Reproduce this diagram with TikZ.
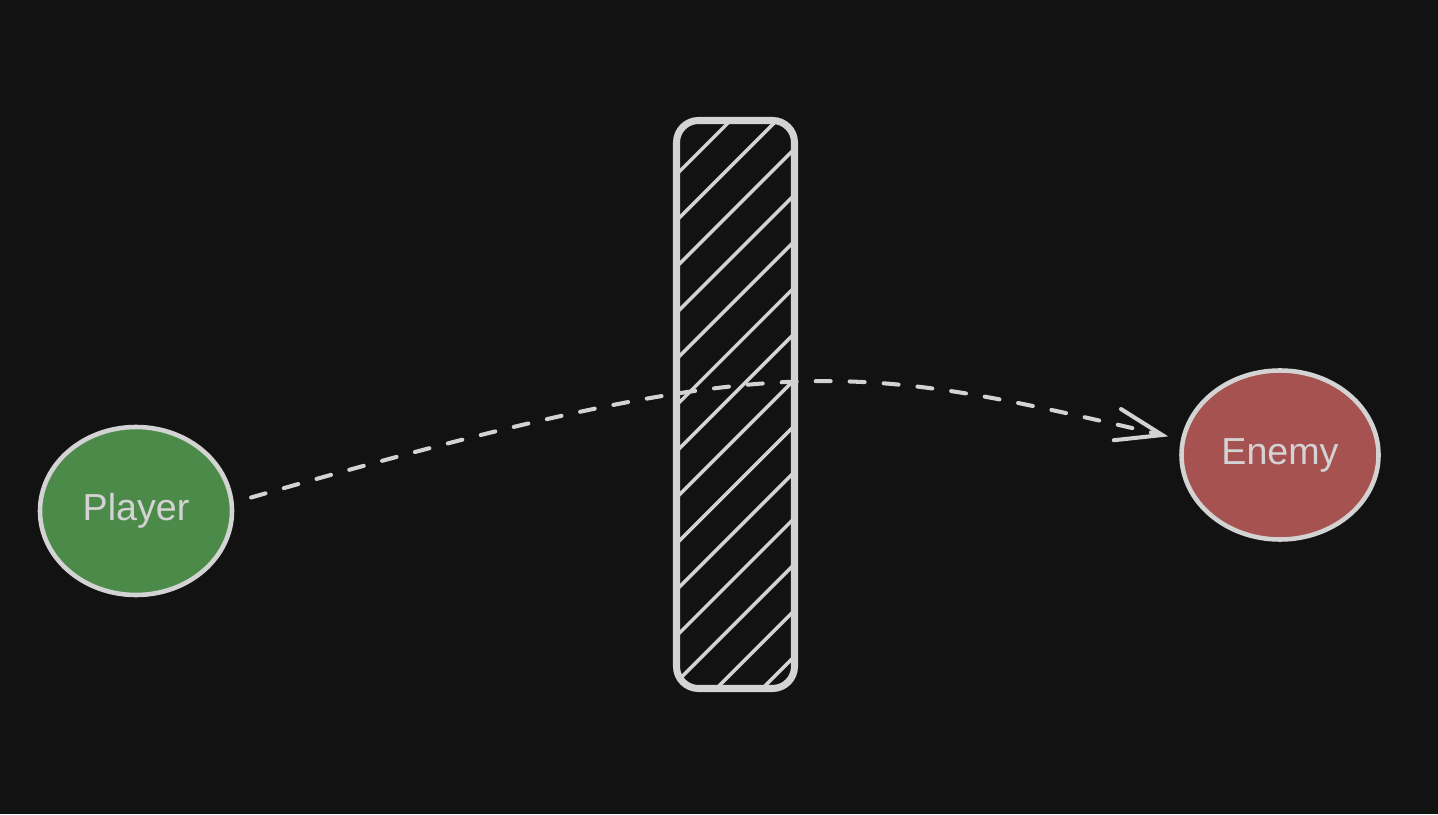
\documentclass[tikz,border=0pt]{standalone}
\usepackage{fontspec}
\setmainfont{Liberation Sans}
\usepackage{tikz}
\usetikzlibrary{
    arrows.meta,
    shapes.geometric
}

\definecolor{bgdark}{HTML}{121212}
\definecolor{sketchgray}{HTML}{D3D3D3}
\definecolor{playergreen}{HTML}{4C8A4A}
\definecolor{enemyred}{HTML}{A55250}

\begin{document}
\begin{tikzpicture}[
    actor/.style={ellipse, draw=sketchgray, line width=1.3pt, inner sep=0pt,
        text=sketchgray, font=\fontsize{10.7}{13}\selectfont},
    hatch/.style={sketchgray, line width=1pt},
    sightline/.style={sketchgray, line width=1.15pt, dash pattern=on 0.15cm off 0.19cm,
        line cap=round, -{Straight Barb[length=4.6mm, width=3.2mm, line cap=round]}}
]

% Background
\fill[bgdark] (0,0) rectangle (14.38,8.14);

% Wall
\begin{scope}
    \clip[rounded corners=0.22cm] (6.765,1.255) rectangle (7.945,6.935);
    \foreach \k in {0,...,13}
        \draw[hatch] (6.6,{6.6-0.37-0.4615*\k}) -- (8.1,{8.1-0.37-0.4615*\k});
\end{scope}
\draw[sketchgray, line width=2pt, rounded corners=0.22cm] (6.765,1.255) rectangle (7.945,6.935);

% Actors
\node[actor, fill=playergreen, minimum width=1.92cm, minimum height=1.68cm] (player) at (1.36,3.03) {Player};
\node[actor, fill=enemyred, minimum width=1.97cm, minimum height=1.69cm] (enemy) at (12.80,3.59) {Enemy};

% Line of sight
\draw[sightline, shorten <=0.18cm, shorten >=0.13cm]
    (player.5) to[out=16, in=167, out distance=5.68cm, in distance=3.43cm] (enemy.171);

\end{tikzpicture}
\end{document}
